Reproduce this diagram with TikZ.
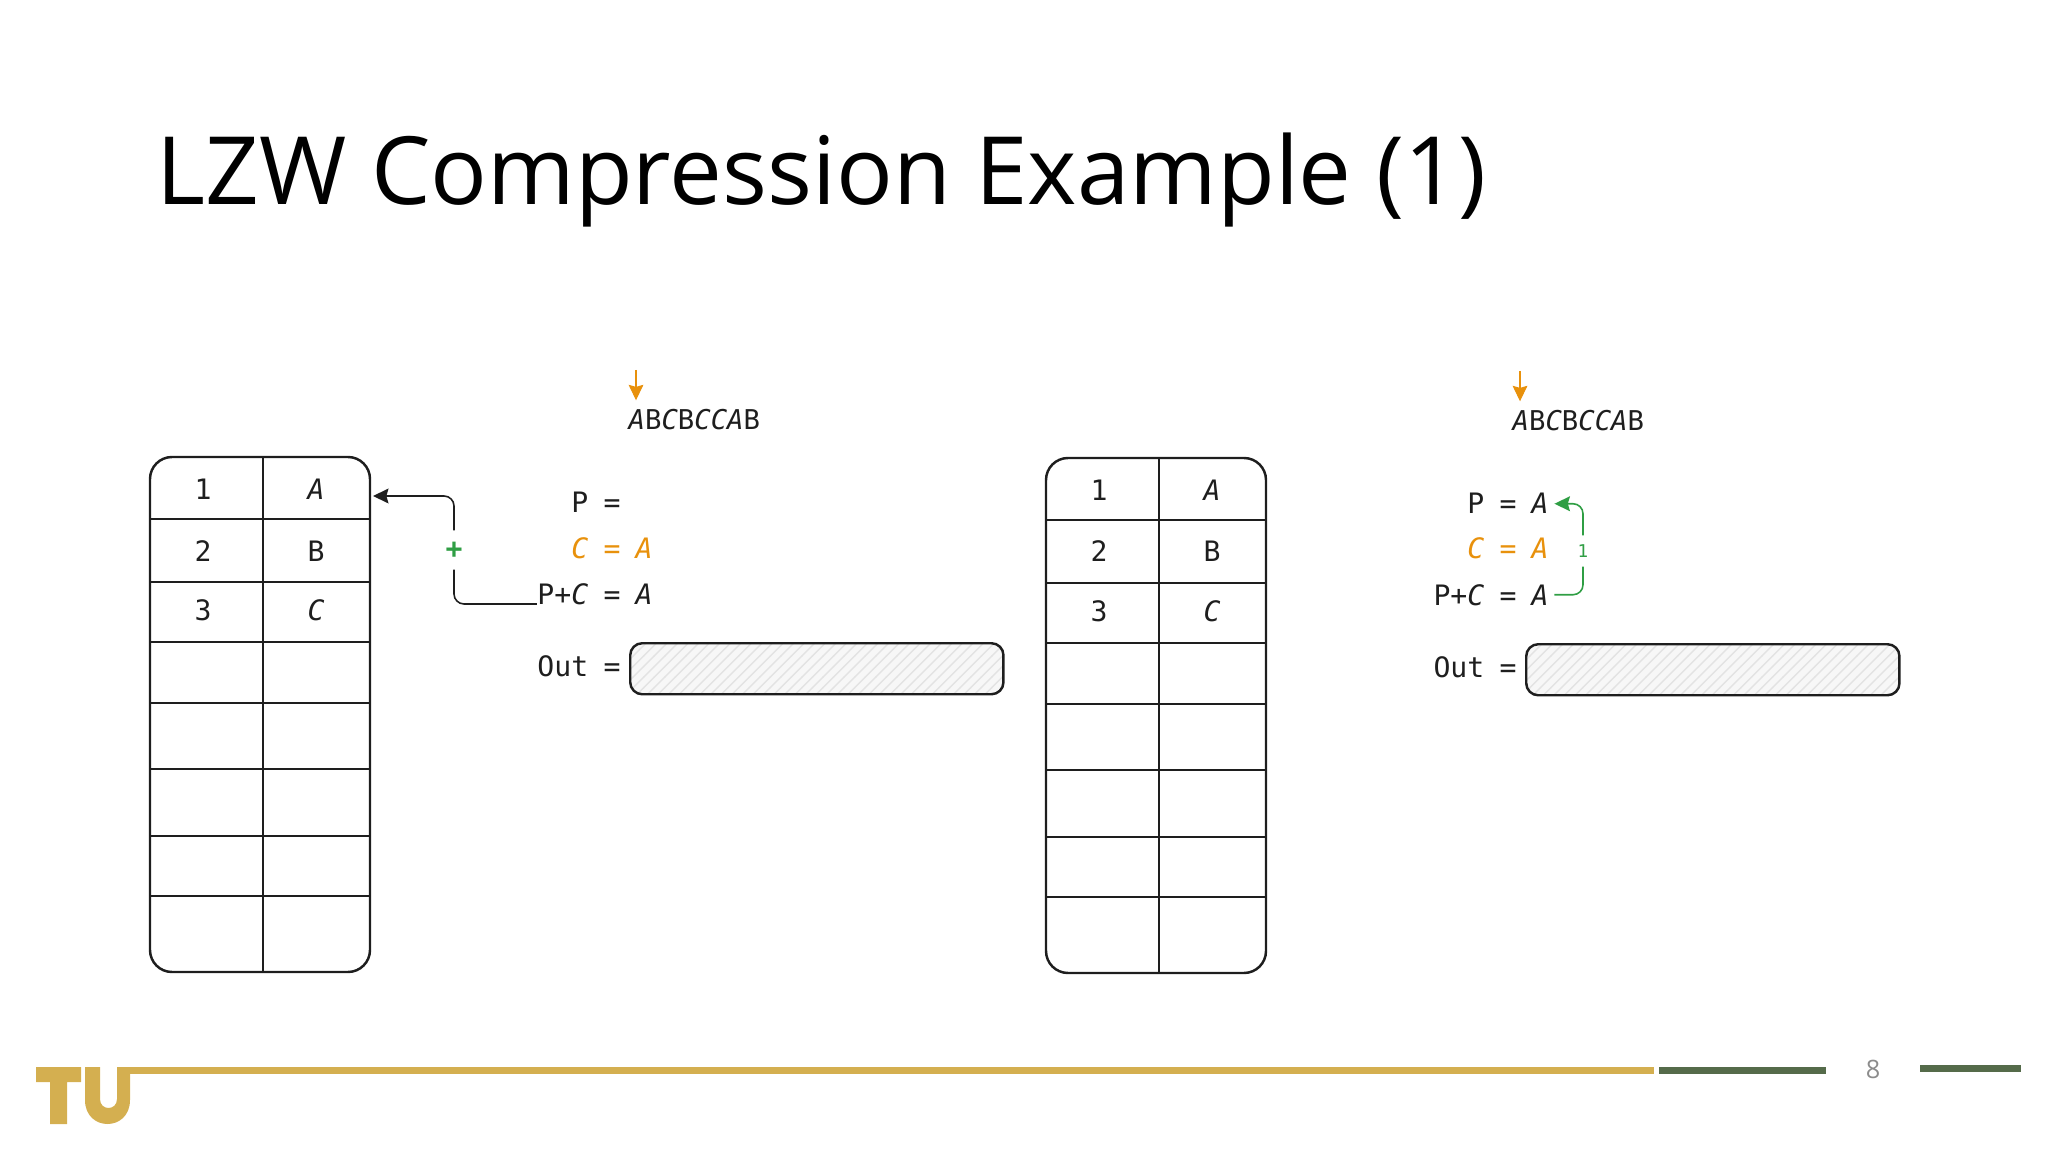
\documentclass[tikz,border=0pt]{standalone}
\usepackage{fontspec}
\usepackage{xcolor}
\setmainfont{Open Sans}
\newfontfamily\handfont{DejaVu Sans Mono}
\usetikzlibrary{arrows.meta,calc,positioning,patterns}
\definecolor{ink}{HTML}{1E1E1E}
\definecolor{gold}{HTML}{D4AF50}
\definecolor{moss}{HTML}{556B4A}
\definecolor{ptrcol}{HTML}{E8910C}
\definecolor{addcol}{HTML}{2F9E44}
\definecolor{pagecol}{HTML}{8C8C8C}
\newcommand{\itA}{\textit{A}}
\newcommand{\itC}{\textit{C}}
\tikzset{
 hand/.style={font=\handfont\fontsize{8pt}{10pt}\selectfont,text=ink,inner sep=0pt},
 fattip/.style={-{Stealth[length=4.4pt,width=4.2pt,inset=0.6pt]}},
 ptrarrow/.style={fattip,ptrcol,line width=0.3pt},
 addline/.style={addcol,line width=0.45pt,rounded corners=0.1cm},
 tblline/.style={ink,line width=0.45pt,rounded corners=0.1cm},
}
\begin{document}
\begin{tikzpicture}[x=0.01cm,y=-0.01cm]
\useasboundingbox (0,0) rectangle (2048,1152);
\node[anchor=base west,inner sep=0pt,font=\fontsize{26.8pt}{32pt}\selectfont,text=black] (title) at (156,205) {LZW Compression Example (1)};
\foreach \k/\l/\p/\m in {0/0/l/0,896/1/r/-12} {
 \begin{scope}[shift={(\k,\l)}]
  % table
  \draw[ink,line width=0.7pt,rounded corners=0.22cm] (150,457) rectangle (370,972);
  \draw[ink,line width=0.55pt] (263,457) -- (263,972);
  \foreach \y in {519,582,642,703,769,836,896} {\draw[ink,line width=0.75pt] (150,\y) -- (370,\y);}
  \foreach \n/\s/\y in {1/\itA/500,2/B/561,3/\itC/620} {
   \node[hand,anchor=base] (num\n\p) at (203,\y) {\n};
   \node[hand,anchor=base] (let\n\p) at (316,\y) {\s};
  }
  % input string
  \node[hand,font=\handfont\fontsize{7.75pt}{10pt}\selectfont,anchor=base west,inner ysep=2.5pt] (input\p) at (628+\m,430) {\itA B\itC B\itC\itC\itA B};
  \coordinate (ptrtop\p) at (636+\m,370);
  \draw[ptrarrow] (ptrtop\p) -- (ptrtop\p |- input\p.north);
  % registers
  \foreach \n/\s/\y/\c in {p/P/513/ink,c/\itC/558/ptrcol,s/P+\itC/604/ink,o/Out/676/ink} {
   \node[hand,anchor=base east,text=\c] (reg\n\p) at (589,\y) {\s};
   \node[hand,anchor=base,text=\c] (eq\n\p) at (612,\y) {=};
  }
  \node[hand,anchor=base,inner xsep=1.5pt,text=ptrcol] (valc\p) at (644,558) {\itA};
  \node[hand,anchor=base,inner xsep=1.5pt] (vals\p) at (644,604) {\itA};
  \node[draw=ink,line width=0.7pt,rounded corners=0.12cm,anchor=north west,minimum width=3.73cm,minimum height=0.51cm,inner sep=0pt,preaction={fill=black!3},pattern=north east lines,pattern color=black!11] (outbox\p) at (629,642) {};
 \end{scope}}
\node[hand,anchor=base,inner xsep=1.5pt] (valpr) at (1540,514) {\itA};
% left: add to table
\coordinate (tblhit) at (373,496);
\node[inner sep=0pt,minimum height=0.38cm,text=addcol,font=\handfont\bfseries\fontsize{8pt}{10pt}\selectfont] (plus) at (454,550) {+};
\draw[tblline] (regsl.base west) -| (plus.south);
\draw[tblline,fattip] (plus.north) |- (tblhit);
% right: P takes P+C
\node[inner sep=0pt,minimum height=0.3cm,text=addcol,font=\handfont\fontsize{5pt}{6pt}\selectfont] (one) at (1583,551) {1};
\draw[addline] (valsr.east) -| (one.south);
\draw[addline,fattip] (one.north) |- (valpr.east);
% footer
\fill[gold] (130,1067) rectangle (1654,1074);
\fill[moss] (1659,1067) rectangle (1826,1074);
\fill[moss] (1920,1065) rectangle (2021,1072);
\node[inner sep=0pt,text=pagecol,font=\fontsize{7.2pt}{9pt}\selectfont] (page) at (1873,1069) {8};
\fill[gold] (36,1067) -- (81,1067) -- (81,1082) -- (67,1082) -- (67,1124) -- (50,1124) -- (50,1082) -- (36,1082) -- cycle;
\fill[gold] (85,1067) -- (100,1067) -- (100,1099) .. controls (100,1111) and (117,1111) .. (117,1099) -- (117,1067) -- (130,1067) -- (130,1100) .. controls (130,1132) and (85,1132) .. (85,1100) -- cycle;
\end{tikzpicture}
\end{document}
